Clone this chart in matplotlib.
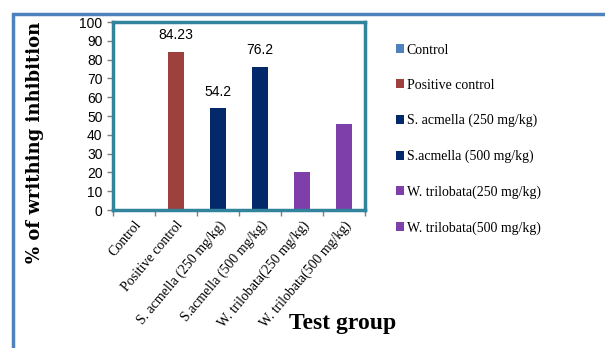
import matplotlib.pyplot as plt
import numpy as np
from matplotlib.patches import Patch, Rectangle

# data
groups = ['Control', 'Positive control', 'S. acmella (250 mg/kg)', 'S.acmella (500 mg/kg)',
          'W. trilobata(250 mg/kg)', 'W. trilobata(500 mg/kg)']
values = [0, 84.23, 54.2, 76.2, 20, 46]
bar_labels = ['', '84.23', '54.2', '76.2', '', '']
colors = ['#4F81BD', '#9E413E', '#03296B', '#03296B', '#7F3FAB', '#7F3FAB']

fig = plt.figure(figsize=(6.05, 3.48), dpi=100)

# outer frame (top and left only visible)
fig.patches.append(Rectangle((12.5 / 605, -0.1), 1.2, 1 - 13.5 / 348 + 0.1,
                             transform=fig.transFigure, fill=False,
                             edgecolor='#4F81BD', lw=2.5, zorder=0))

ax = fig.add_axes([113 / 605, 1 - 210 / 348, 252 / 605, 188 / 348])
x = np.arange(len(groups))
bars = ax.bar(x, values, width=0.4, color=colors, zorder=2)

for xi, v, lab in zip(x, values, bar_labels):
    if lab:
        ax.text(xi, v + 5, lab, ha='center', va='bottom', fontsize=10,
                family='Liberation Sans')

ax.set_xlim(-0.5, len(groups) - 0.5)
ax.set_ylim(0, 100)
ax.set_yticks(range(0, 101, 10))
ax.set_xticks(np.arange(-0.5, len(groups), 1), minor=False)
ax.set_xticklabels([])
ax.set_xticks(x, minor=True)
ax.set_xticklabels(groups, minor=True, rotation=50, ha='right', rotation_mode='anchor',
                   family='Liberation Serif', fontsize=10)
ax.tick_params(axis='x', which='minor', length=0, pad=6)
ax.tick_params(axis='x', which='major', length=4, width=1, color='#7F7F7F', direction='out')
ax.tick_params(axis='y', length=4, width=1, color='#7F7F7F', direction='out', labelsize=10)
for t in ax.get_yticklabels():
    t.set_family('Liberation Sans')

for s in ax.spines.values():
    s.set_color('#31849B')
    s.set_linewidth(2.5)

fig.text(35 / 605, 1 - 142 / 348, '% of writhing inhibition', rotation=90, ha='center',
         va='center', fontsize=13, fontweight='bold', family='DejaVu Serif')
fig.text(343 / 605, 1 - 323 / 348, 'Test group', ha='center', va='center', fontsize=17,
         fontweight='bold', family='Liberation Serif')

handles = [Patch(facecolor=c) for c in colors]
fig.legend(handles, groups, loc='upper left', bbox_to_anchor=(390 / 605, 1 - 38 / 348),
           frameon=False, prop={'family': 'Liberation Serif', 'size': 10},
           handlelength=0.6, handleheight=0.6, handletextpad=0.2, labelspacing=1.6,
           borderaxespad=0)

fig.savefig('out.png', dpi=100)
